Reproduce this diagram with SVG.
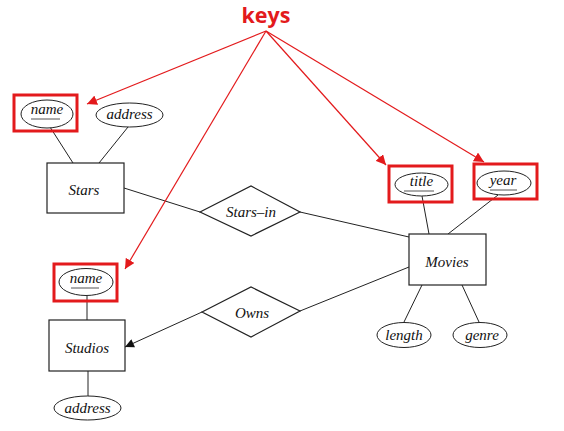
<svg xmlns="http://www.w3.org/2000/svg" width="564" height="431" viewBox="0 0 564 431">
<defs>
<style>
.box{fill:#fff;stroke:#222;stroke-width:1.2}
.att{fill:#fff;stroke:#222;stroke-width:1}
.lbl{font-family:"Liberation Serif",serif;font-style:italic;font-size:15px;fill:#111;text-anchor:middle}
.ln{stroke:#222;stroke-width:1;fill:none}
.ul{stroke:#555;stroke-width:1}
.key{fill:none;stroke:#e31a1c;stroke-width:3}
.red{stroke:#e31a1c;stroke-width:1.2;fill:none}
</style>
<marker id="ra" viewBox="0 0 10 10" refX="10" refY="5" markerWidth="10" markerHeight="10" markerUnits="userSpaceOnUse" orient="auto">
<path d="M0,0 L10,5 L0,10 z" fill="#e31a1c"/>
</marker>
<marker id="ba" viewBox="0 0 10 10" refX="10" refY="5" markerWidth="10" markerHeight="9" markerUnits="userSpaceOnUse" orient="auto">
<path d="M0,0 L10,5 L0,10 z" fill="#111"/>
</marker>
</defs>
<rect width="564" height="431" fill="#fff"/>
<g id="connectors">
<line class="ln" x1="50" y1="127" x2="73" y2="163"/>
<line class="ln" x1="128" y1="127" x2="99" y2="163"/>
<line class="ln" x1="124" y1="188" x2="200" y2="212"/>
<line class="ln" x1="300" y1="212" x2="409" y2="237"/>
<line class="ln" x1="422" y1="196" x2="429" y2="234"/>
<line class="ln" x1="498" y1="195" x2="448" y2="234"/>
<line class="ln" x1="422" y1="285" x2="404" y2="322"/>
<line class="ln" x1="462" y1="285" x2="479" y2="322"/>
<line class="ln" x1="409" y1="267" x2="300" y2="311"/>
<line class="ln" x1="202" y1="312" x2="125" y2="347" marker-end="url(#ba)"/>
<line class="ln" x1="87" y1="296" x2="87" y2="320"/>
<line class="ln" x1="88" y1="371" x2="88" y2="396"/>
</g>
<g id="keys-arrows">
<line class="red" x1="266" y1="31" x2="87" y2="104" marker-end="url(#ra)"/>
<line class="red" x1="266" y1="31" x2="125" y2="269" marker-end="url(#ra)"/>
<line class="red" x1="266" y1="31" x2="386" y2="165" marker-end="url(#ra)"/>
<line class="red" x1="266" y1="31" x2="484" y2="162" marker-end="url(#ra)"/>
</g>
<g id="keys-label">
<text x="266" y="23" font-family="'Open Sans',sans-serif" font-weight="bold" font-size="21.5" fill="#e31a1c" text-anchor="middle">keys</text>
</g>
<g id="stars">
<rect class="box" x="47" y="163" width="77" height="50"/>
<text class="lbl" x="84" y="195">Stars</text>
</g>
<g id="stars-name">
<ellipse class="att" cx="47" cy="114" rx="26" ry="14"/>
<text class="lbl" x="47" y="114">name</text>
<line class="ul" x1="31" y1="119" x2="60" y2="119"/>
<rect class="key" x="14" y="95" width="63" height="36"/>
</g>
<g id="stars-address">
<ellipse class="att" cx="129.5" cy="115" rx="33.5" ry="12"/>
<text class="lbl" x="129.5" y="119">address</text>
</g>
<g id="stars-in">
<polygon class="box" points="200,212 251,186 300,212 251,236"/>
<text class="lbl" x="251" y="217">Stars–in</text>
</g>
<g id="movies">
<rect class="box" x="409" y="234" width="77" height="51"/>
<text class="lbl" x="447" y="267">Movies</text>
</g>
<g id="title">
<ellipse class="att" cx="421.5" cy="184.5" rx="26.5" ry="11.5"/>
<text class="lbl" x="421.5" y="186">title</text>
<line class="ul" x1="404" y1="191" x2="434" y2="191"/>
<rect class="key" x="389" y="166" width="63" height="36"/>
</g>
<g id="year">
<ellipse class="att" cx="504" cy="183" rx="27" ry="12"/>
<text class="lbl" x="503" y="185">year</text>
<line class="ul" x1="490" y1="190" x2="517" y2="190"/>
<rect class="key" x="474" y="164" width="63" height="35"/>
</g>
<g id="length">
<ellipse class="att" cx="404" cy="335" rx="27" ry="12.5"/>
<text class="lbl" x="404" y="340">length</text>
</g>
<g id="genre">
<ellipse class="att" cx="480" cy="335" rx="27" ry="12.5"/>
<text class="lbl" x="482" y="340">genre</text>
</g>
<g id="owns">
<polygon class="box" points="202,312 251,287 300,311 251,337"/>
<text class="lbl" x="252" y="318">Owns</text>
</g>
<g id="studios">
<rect class="box" x="49" y="320" width="76" height="51"/>
<text class="lbl" x="87" y="353">Studios</text>
</g>
<g id="studios-name">
<ellipse class="att" cx="86" cy="282" rx="27" ry="13.5"/>
<text class="lbl" x="86" y="283">name</text>
<line class="ul" x1="71" y1="288" x2="99" y2="288"/>
<rect class="key" x="54" y="264" width="63" height="37"/>
</g>
<g id="studios-address">
<ellipse class="att" cx="87.5" cy="408" rx="33.5" ry="12"/>
<text class="lbl" x="87.5" y="413">address</text>
</g>
</svg>
